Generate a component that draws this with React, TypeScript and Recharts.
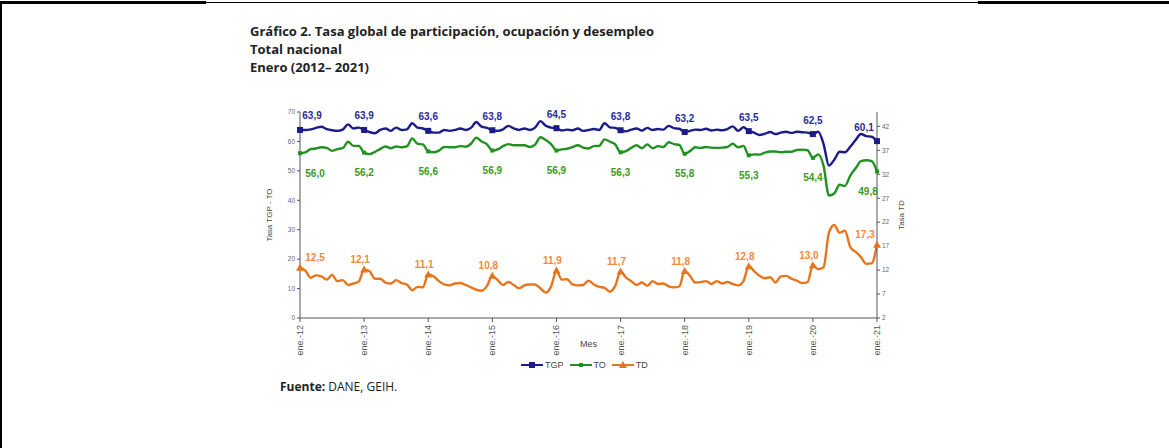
import { LineChart, Line, XAxis, YAxis, Legend, LabelList } from 'recharts';

const meses = ['ene.', 'feb.', 'mar.', 'abr.', 'may.', 'jun.', 'jul.', 'ago.', 'sep.', 'oct.', 'nov.', 'dic.'];
const anios = ['12', '13', '14', '15', '16', '17', '18', '19', '20', '21'];

// Tasa global de participación
const tgp = [
  63.9, 63.9, 64.1, 64.6, 65.0, 64.2, 63.8, 63.6, 64.0, 65.8, 64.4, 64.7,
  63.9, 63.2, 62.8, 63.9, 64.4, 63.6, 64.7, 63.9, 64.1, 66.2, 64.7, 64.4,
  63.6, 63.0, 63.0, 63.9, 63.6, 63.9, 64.4, 63.9, 64.6, 66.6, 65.0, 64.6,
  63.8, 63.6, 64.1, 65.3, 64.4, 63.9, 64.4, 63.9, 64.7, 66.9, 65.3, 64.7,
  64.5, 63.7, 64.0, 63.8, 64.4, 63.6, 63.9, 64.2, 63.9, 66.2, 64.8, 64.6,
  63.8, 63.4, 64.0, 64.4, 63.7, 64.6, 63.9, 64.2, 64.0, 65.3, 64.5, 64.3,
  63.2, 63.6, 64.0, 63.9, 64.3, 63.7, 64.0, 63.8, 64.2, 65.1, 63.6, 64.8,
  63.5, 63.0, 62.2, 62.6, 63.2, 62.5, 63.0, 63.3, 62.9, 63.3, 63.1, 63.0,
  62.5, 63.3, 59.1, 51.8, 53.8, 56.5, 56.3, 58.2, 60.5, 62.5, 61.8, 61.6,
  60.1,
];

// Tasa de ocupación
const to = [
  56.0, 56.3, 57.4, 57.6, 58.0, 57.8, 56.8, 57.4, 57.7, 59.9, 58.5, 58.5,
  56.2, 55.7, 56.4, 57.4, 58.3, 57.7, 58.3, 58.0, 58.3, 61.0, 59.2, 59.0,
  56.6, 56.3, 56.9, 58.1, 58.0, 58.0, 58.4, 58.2, 59.2, 61.3, 60.0, 59.0,
  56.9, 57.3, 58.4, 59.1, 58.7, 58.7, 58.7, 58.1, 58.9, 61.4, 60.5, 59.1,
  56.9, 57.3, 57.5, 58.1, 58.7, 57.9, 57.6, 58.4, 58.5, 60.7, 59.9, 59.0,
  56.3, 56.7, 57.8, 58.7, 57.7, 59.0, 57.7, 58.4, 58.1, 59.7, 59.1, 58.8,
  55.8, 56.7, 58.0, 57.8, 58.1, 57.9, 57.8, 57.9, 58.1, 59.2, 58.0, 58.5,
  55.3, 55.6, 55.5, 56.2, 56.6, 56.6, 56.3, 56.5, 56.5, 57.1, 57.2, 57.0,
  54.4, 55.6, 51.7, 41.6, 42.3, 45.3, 44.9, 48.4, 50.9, 53.3, 53.6, 53.3,
  49.8,
];

// Tasa de desempleo (eje derecho)
const td = [
  12.5, 11.9, 10.4, 10.9, 10.7, 10.0, 11.0, 9.7, 9.9, 8.9, 9.2, 9.6,
  12.1, 11.8, 10.2, 10.2, 9.4, 9.2, 9.9, 9.3, 9.0, 7.8, 8.5, 8.4,
  11.1, 10.7, 9.7, 9.0, 8.8, 9.2, 9.3, 8.9, 8.4, 7.9, 7.7, 8.7,
  10.8, 9.9, 8.9, 9.5, 8.9, 8.2, 8.8, 9.0, 9.0, 8.2, 7.3, 8.6,
  11.9, 10.0, 10.1, 9.0, 8.8, 8.9, 9.8, 9.0, 8.5, 8.3, 7.5, 8.7,
  11.7, 10.5, 9.7, 8.9, 9.4, 8.7, 9.7, 9.1, 9.2, 8.6, 8.4, 8.6,
  11.8, 10.8, 9.4, 9.5, 9.7, 9.1, 9.7, 9.2, 9.5, 9.1, 8.8, 9.7,
  12.8, 11.8, 10.8, 10.3, 10.5, 9.4, 10.7, 10.8, 10.2, 9.8, 9.3, 9.5,
  13.0, 12.2, 12.6, 19.8, 21.4, 19.8, 20.2, 16.8, 15.8, 14.7, 13.3, 13.4,
  17.3,
];

const ticksIzq = [0, 10, 20, 30, 40, 50, 60, 70];
const ticksDer = [2, 7, 12, 17, 22, 27, 32, 37, 42];

const etiquetas = anios.flatMap((a) => meses.map((m) => `${m}-${a}`)).slice(0, tgp.length);
const data = etiquetas.map((mes, i) => ({ mes, tgp: tgp[i], to: to[i], td: td[i] }));

const AZUL = '#1b1b8a';
const VERDE = '#219121';
const NARANJA = '#e8751d';
const FONT = '"Liberation Sans", Arial, sans-serif';
const last = tgp.length - 1;

const fmt = (v: number) => v.toFixed(1).replace('.', ',');

const makeLabel = (color: string, dy: number, dxFirst: number, dxLast: number, dxMid = 0) => (props: any) => {
  const { x, y, value, index } = props;
  if (index % 12 !== 0) return null;
  const dx = index === 0 ? dxFirst : index === last ? dxLast : dxMid;
  return (
    <text x={x + dx} y={y + dy} textAnchor="middle" dominantBaseline="central"
      fontSize={10} fontWeight="bold" fontFamily={FONT} fill={color}>
      {fmt(value)}
    </text>
  );
};

const squareDot = (props: any) => {
  const { cx, cy, index } = props;
  if (index % 12 !== 0) return <g key={`s${index}`} />;
  return <rect key={`s${index}`} x={cx - 3} y={cy - 3} width={6} height={6} fill={AZUL} />;
};
const smallDot = (props: any) => {
  const { cx, cy, index } = props;
  if (index % 12 !== 0) return <g key={`c${index}`} />;
  return <rect key={`c${index}`} x={cx - 2} y={cy - 2} width={4} height={4} fill={VERDE} />;
};
const triDot = (props: any) => {
  const { cx, cy, index } = props;
  if (index % 12 !== 0) return <g key={`t${index}`} />;
  return <path key={`t${index}`} d={`M${cx},${cy - 4} L${cx + 4},${cy + 3} L${cx - 4},${cy + 3} Z`} fill={NARANJA} />;
};

const XTick = (props: any) => {
  const { x, y, payload } = props;
  return (
    <text x={x} y={y} transform={`rotate(-90, ${x}, ${y})`} textAnchor="end" dominantBaseline="central"
      fontSize={9} fontFamily={FONT} fill="#555">
      {payload.value}
    </text>
  );
};

const leyenda = [
  { name: 'TGP', color: AZUL, shape: 'square' },
  { name: 'TO', color: VERDE, shape: 'small' },
  { name: 'TD', color: NARANJA, shape: 'tri' },
];

const renderLegend = () => (
  <div style={{ display: 'flex', alignItems: 'center', gap: 6, fontFamily: FONT, fontSize: 9, color: '#444' }}>
    {leyenda.map((it) => (
      <div key={it.name} style={{ display: 'flex', alignItems: 'center', gap: 2 }}>
        <svg width={22} height={8}>
          <line x1={0} y1={4} x2={22} y2={4} stroke={it.color} strokeWidth={2} />
          {it.shape === 'square' && <rect x={8} y={1} width={6} height={6} fill={it.color} />}
          {it.shape === 'small' && <rect x={9} y={2} width={4} height={4} fill={it.color} />}
          {it.shape === 'tri' && <path d="M11,0 L15,7 L7,7 Z" fill={it.color} />}
        </svg>
        <span>{it.name}</span>
      </div>
    ))}
  </div>
);

export default function App() {
  return (
    <div style={{ position: 'absolute', left: 0, top: 0, width: 1169, height: 448, background: '#fff', overflow: 'hidden' }}>
      <div style={{ position: 'absolute', left: 0, top: 1, width: 206, height: 3, background: '#000' }} />
      <div style={{ position: 'absolute', left: 206, top: 2, width: 772, height: 1, background: '#000' }} />
      <div style={{ position: 'absolute', left: 978, top: 1, width: 191, height: 3, background: '#000' }} />
      <div style={{ position: 'absolute', left: 0, top: 1, width: 2, height: 447, background: '#000' }} />

      <div style={{ position: 'absolute', left: 250, top: 22, fontFamily: '"Open Sans", sans-serif', fontWeight: 700, fontSize: 13, lineHeight: '18px', color: '#222' }}>
        <div>Gráfico 2. Tasa global de participación, ocupación y desempleo</div>
        <div>Total nacional</div>
        <div>Enero (2012– 2021)</div>
      </div>

      <div style={{ position: 'absolute', left: 280, top: 378, fontFamily: '"Open Sans", sans-serif', fontSize: 12, color: '#222' }}>
        <b>Fuente:</b> DANE, GEIH.
      </div>

      <div style={{ position: 'absolute', left: 0, top: 0 }}>
        <LineChart width={1169} height={448} data={data} margin={{ top: 112, right: 261, bottom: 90, left: 269 }}>
          <XAxis dataKey="mes" interval={11} tick={<XTick />} tickSize={4} tickMargin={3}
            height={40} stroke="#555" tickLine={{ stroke: '#555' }}
            label={{ value: 'Mes', position: 'insideBottom', offset: 11, fontSize: 9, fontFamily: FONT, fill: '#444' }} />
          <YAxis yAxisId="left" domain={[0, 70]} ticks={ticksIzq} width={31} tickSize={3} tickMargin={2}
            stroke="#555" tick={{ fontSize: 6.5, fontFamily: FONT, fill: '#666' }}
            label={{ value: 'Tasa TGP - TO', angle: -90, position: 'left', offset: 0, fontSize: 8, fontFamily: FONT, fill: '#444', style: { textAnchor: 'middle' } }} />
          <YAxis yAxisId="right" orientation="right" domain={[2, 45]} ticks={ticksDer} width={31} tickSize={3} tickMargin={2}
            stroke="#555" tick={{ fontSize: 6.5, fontFamily: FONT, fill: '#666' }}
            label={{ value: 'Tasa TD', angle: -90, position: 'right', offset: -7, fontSize: 8, fontFamily: FONT, fill: '#444', style: { textAnchor: 'middle' } }} />
          <Legend verticalAlign="middle" layout="horizontal" content={renderLegend}
            wrapperStyle={{ left: 521, top: 360, width: 160 }} />
          <Line yAxisId="left" type="monotone" dataKey="tgp" name="TGP" stroke={AZUL} strokeWidth={2.4}
            dot={squareDot} activeDot={false} isAnimationActive={false}>
            <LabelList dataKey="tgp" content={makeLabel('#2a2a9a', -14, 12, -13)} />
          </Line>
          <Line yAxisId="left" type="monotone" dataKey="to" name="TO" stroke={VERDE} strokeWidth={2.4}
            dot={smallDot} activeDot={false} isAnimationActive={false}>
            <LabelList dataKey="to" content={makeLabel('#3a9a1c', 20, 15, -9)} />
          </Line>
          <Line yAxisId="right" type="monotone" dataKey="td" name="TD" stroke={NARANJA} strokeWidth={2.4}
            dot={triDot} activeDot={false} isAnimationActive={false}>
            <LabelList dataKey="td" content={makeLabel('#f5893a', -10, 15, -12, -4)} />
          </Line>
        </LineChart>
      </div>
    </div>
  );
}
